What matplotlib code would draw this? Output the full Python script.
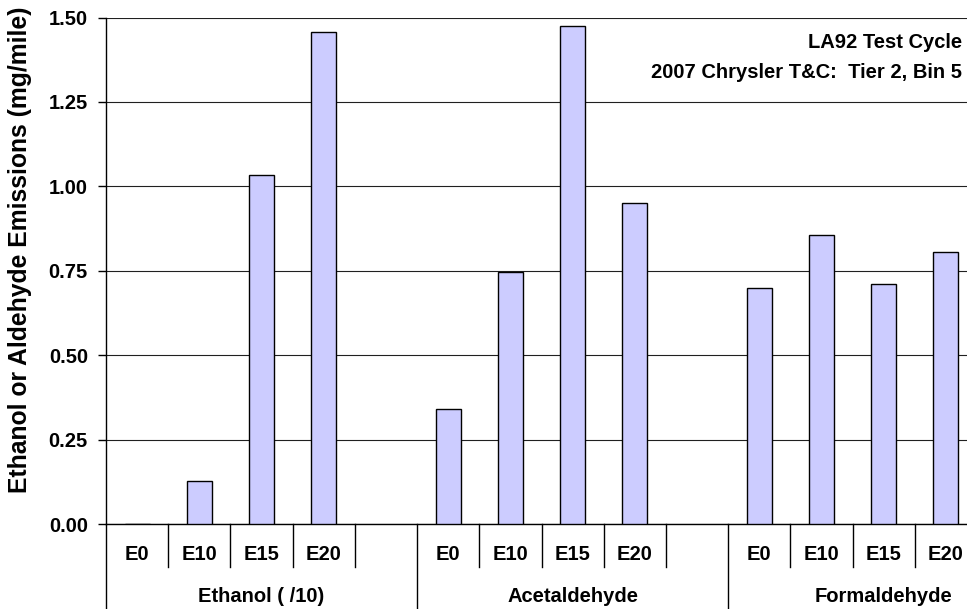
import numpy as np
import matplotlib.pyplot as plt
from matplotlib.transforms import blended_transform_factory

plt.rcParams['font.family'] = ['Liberation Sans', 'DejaVu Sans']
plt.rcParams['font.weight'] = 'bold'

groups = ['Ethanol ( /10)', 'Acetaldehyde', 'Formaldehyde']
fuels = ['E0', 'E10', 'E15', 'E20']
ethanol = [0.0, 0.127, 1.035, 1.456]
acetaldehyde = [0.342, 0.745, 1.475, 0.951]
formaldehyde = [0.698, 0.855, 0.71, 0.805]
yticks = [0.00, 0.25, 0.50, 0.75, 1.00, 1.25, 1.50]

fs = 14.5

fig = plt.figure(figsize=(9.67, 6.09), dpi=100)
ax = fig.add_axes([106 / 967, 1 - 524 / 609, 871 / 967, 506.5 / 609])

slots = 5  # 4 fuels + one empty slot per group
for g, vals in enumerate([ethanol, acetaldehyde, formaldehyde]):
    x = g * slots + np.arange(len(fuels)) + 0.5
    ax.bar(x, vals, width=0.4, color='#CCCCFF', edgecolor='black', linewidth=1, zorder=3)

ax.set_xlim(0, 14)
ax.set_ylim(0, 1.5)
ax.set_yticks(yticks)
ax.set_yticklabels(['%.2f' % t for t in yticks], fontsize=fs, fontweight='bold')
ax.tick_params(axis='y', direction='out', length=6, width=1, pad=7)
ax.set_xticks([])
ax.grid(axis='y', color='#202020', linewidth=0.8, zorder=0)
for s in ['top', 'right']:
    ax.spines[s].set_visible(False)
ax.spines['left'].set_linewidth(1)
ax.spines['bottom'].set_linewidth(1)

fig.text(20 / 967, 1 - 250 / 609, 'Ethanol or Aldehyde Emissions (mg/mile)', rotation=90,
         ha='center', va='center', fontsize=17.8, fontweight='bold')

# two-level category axis
tr = blended_transform_factory(ax.transData, ax.transAxes)
y_tick = -43 / 506.5
y_bottom = -86 / 506.5
for i in range(15):
    if i % slots == 0:
        ax.plot([i, i], [0, y_bottom], color='black', lw=1, transform=tr, clip_on=False)
    else:
        ax.plot([i, i], [0, y_tick], color='black', lw=1, transform=tr, clip_on=False)
for g, name in enumerate(groups):
    for k, f in enumerate(fuels):
        ax.text(g * slots + k + 0.5, -31 / 506.5, f, transform=tr, ha='center', va='center',
                fontsize=fs, fontweight='bold')
    ax.text(g * slots + 2.5, -73 / 506.5, name, transform=tr, ha='center', va='center',
            fontsize=fs, fontweight='bold')

fig.text(962 / 967, 1 - 43 / 609, 'LA92 Test Cycle', ha='right', va='center', fontsize=fs, fontweight='bold')
fig.text(962 / 967, 1 - 72 / 609, '2007 Chrysler T&C:  Tier 2, Bin 5', ha='right', va='center',
         fontsize=fs, fontweight='bold')

fig.savefig('out.png', dpi=100)
